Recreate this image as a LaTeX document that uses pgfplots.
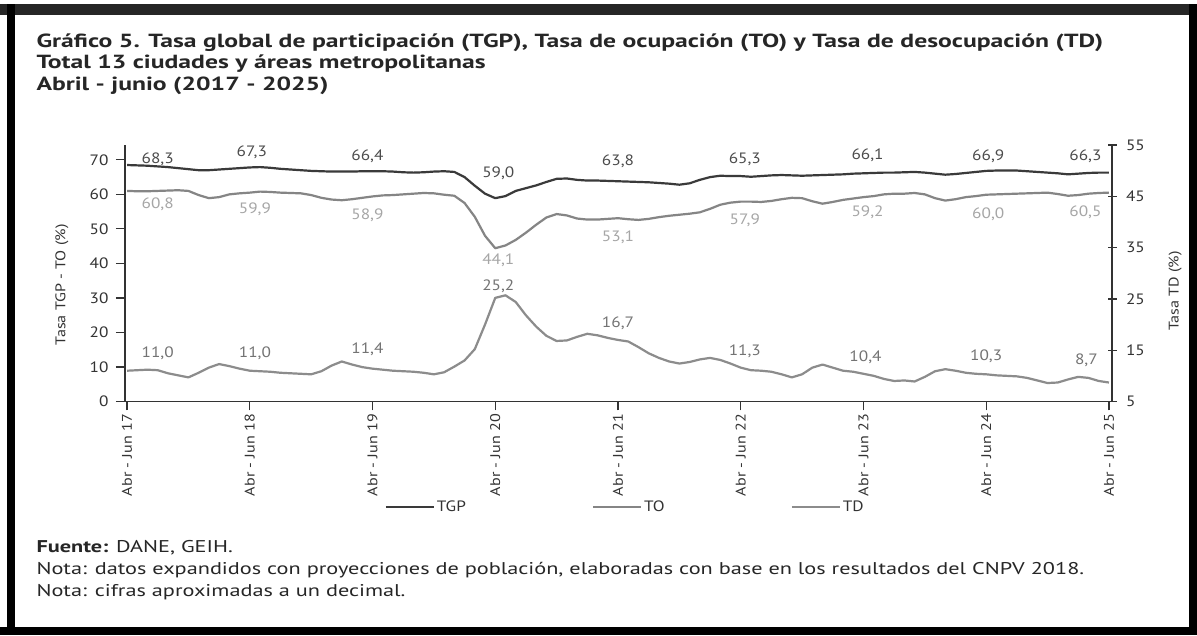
\documentclass[border=0pt]{standalone}
\usepackage{fontspec}
\setmainfont{PT Sans}[FakeStretch=1.15]
\newfontfamily\titlefont{PT Sans}[FakeStretch=1.35]
\newfontfamily\notefont{PT Sans}[FakeStretch=1.31]
\usepackage{pgfplots}
\usepackage{pgfplotstable}
\pgfplotsset{compat=1.18}

\definecolor{tgpc}{HTML}{3A3A3A}
\definecolor{toc}{HTML}{858585}
\definecolor{tdc}{HTML}{8C8C8C}
\definecolor{axc}{HTML}{333333}

% serie mensual (trimestre movil), 0 = Abr-Jun 17 ... 96 = Abr-Jun 25
\pgfplotstableread{
i tgp to td
0 68.5 61.0 11.0
1 68.4 60.9 11.1
2 68.3 60.9 11.2
3 68.1 61.0 11.1
4 67.9 61.1 10.5
5 67.6 61.2 10.1
6 67.3 61.0 9.7
7 67.0 59.8 10.6
8 67.0 58.9 11.6
9 67.2 59.2 12.3
10 67.4 60.0 11.9
11 67.6 60.3 11.4
12 67.8 60.5 11.0
13 67.9 60.8 10.9
14 67.7 60.7 10.8
15 67.4 60.5 10.6
16 67.2 60.4 10.5
17 67.0 60.3 10.4
18 66.8 59.8 10.3
19 66.7 59.0 10.9
20 66.6 58.5 12.0
21 66.6 58.3 12.8
22 66.6 58.6 12.2
23 66.7 59.0 11.7
24 66.7 59.4 11.4
25 66.7 59.7 11.2
26 66.6 59.8 11.0
27 66.4 60.0 10.9
28 66.3 60.2 10.8
29 66.4 60.4 10.6
30 66.6 60.3 10.3
31 66.7 59.9 10.7
32 66.5 59.6 11.8
33 65.0 57.5 13.0
34 62.5 53.5 15.2
35 60.2 48.0 20.0
36 58.9 44.4 25.2
37 59.5 45.2 25.7
38 61.0 46.8 24.4
39 61.8 48.9 21.8
40 62.6 51.2 19.6
41 63.6 53.3 17.8
42 64.5 54.3 16.8
43 64.6 53.9 16.9
44 64.2 53.0 17.6
45 64.0 52.7 18.2
46 64.0 52.7 17.9
47 63.9 52.9 17.4
48 63.8 53.1 17.0
49 63.7 52.8 16.7
50 63.6 52.6 15.6
51 63.5 52.9 14.4
52 63.3 53.4 13.5
53 63.1 53.8 12.8
54 62.8 54.1 12.4
55 63.2 54.4 12.7
56 64.2 54.8 13.2
57 65.0 55.8 13.5
58 65.4 57.0 13.1
59 65.3 57.6 12.4
60 65.3 57.9 11.6
61 65.1 57.9 11.1
62 65.3 57.8 11.0
63 65.5 58.1 10.8
64 65.6 58.6 10.3
65 65.5 59.0 9.7
66 65.4 58.9 10.3
67 65.5 58.0 11.6
68 65.6 57.3 12.2
69 65.7 57.8 11.6
70 65.8 58.4 11.0
71 66.0 58.8 10.8
72 66.1 59.2 10.4
73 66.2 59.5 10.0
74 66.3 60.0 9.4
75 66.3 60.2 9.0
76 66.4 60.2 9.1
77 66.5 60.4 8.9
78 66.3 60.0 9.8
79 66.0 58.9 10.9
80 65.7 58.2 11.3
81 65.9 58.6 11.0
82 66.2 59.2 10.6
83 66.5 59.5 10.4
84 66.8 59.9 10.3
85 66.9 60.0 10.1
86 66.9 60.1 10.0
87 66.9 60.2 9.9
88 66.7 60.3 9.6
89 66.5 60.4 9.1
90 66.3 60.5 8.6
91 66.1 60.1 8.7
92 65.8 59.6 9.3
93 66.0 59.8 9.8
94 66.2 60.2 9.6
95 66.3 60.4 9.0
96 66.3 60.5 8.7
}\datos

\pgfplotsset{
  marco/.style={
    at={(125pt,233.5pt)}, anchor=south west,
    scale only axis, width=987pt, height=256.5pt,
    xmin=-0.2, xmax=96.3,
    axis line style={axc, line width=1.3pt},
    tick style={axc, line width=1.2pt},
    major tick length=9pt,
    /pgf/number format/assume math mode=true,
    ticklabel style={font=\fontsize{15}{15}\selectfont, text=axc},
  },
  serie/.style={line width=2.2pt, line join=round, no markers},
}

\begin{document}
\begin{tikzpicture}
\useasboundingbox (0,0) rectangle (1197pt,635pt);
\fill[white] (0,0) rectangle (1197pt,635pt);
% marco escaneado
\fill[black!85] (0,620pt) rectangle (1197pt,631pt);
\fill[black] (7pt,0) rectangle (15pt,631pt);
\fill[black] (1189pt,0) rectangle (1197pt,631pt);
\fill[black] (0,0) rectangle (1197pt,8pt);

\begin{scope}[every node/.style={anchor=west, font=\titlefont\fontsize{19}{19}\selectfont\bfseries, text=black!85}]
\node at (33pt,592pt)
  {Gráfico 5. Tasa global de participación (TGP), Tasa de ocupación (TO) y Tasa de desocupación (TD)};
\node at (33pt,571pt) {Total 13 ciudades y áreas metropolitanas};
\node at (33pt,549pt) {Abril - junio (2017 - 2025)};
\end{scope}

\begin{scope}[every node/.style={anchor=west, font=\notefont\fontsize{17}{17}\selectfont, text=black!85}]
\node at (33pt,87pt) {\textbf{Fuente:} DANE, GEIH.};
\node at (33pt,65pt)
  {Nota: datos expandidos con proyecciones de población, elaboradas con base en los resultados del CNPV 2018.};
\node at (33pt,43pt) {Nota: cifras aproximadas a un decimal.};
\end{scope}

\begin{axis}[
  marco,
  ymin=0, ymax=74.3,
  axis x line*=bottom, axis y line*=left,
  tick align=outside,
  xtick={0,12,...,96},
  xticklabels={Abr - Jun 17,Abr - Jun 18,Abr - Jun 19,Abr - Jun 20,Abr - Jun 21,Abr - Jun 22,Abr - Jun 23,Abr - Jun 24,Abr - Jun 25},
  xticklabel style={rotate=90, anchor=east, font=\fontsize{14}{14}\selectfont},
  ytick={0,10,...,70},
  yticklabel style={xshift=-4pt},
  ylabel={Tasa TGP - TO (\%)},
  ylabel style={at={(axis description cs:-0.064,0.455)}, anchor=center, font=\fontsize{14}{14}\selectfont, text=axc},
  legend columns=3,
  legend style={at={(0.263,-0.41)}, anchor=west, draw=none, fill=none, inner sep=0pt,
    font=\fontsize{15}{15}\selectfont, text=axc,
    /tikz/every even column/.append style={column sep=124pt}},
  legend image code/.code={\draw[#1] (0pt,0pt) -- (48pt,0pt);},
]
\addplot[serie, tgpc] table[x=i, y=tgp] {\datos};
\addplot[serie, toc] table[x=i, y=to] {\datos};
\addlegendimage{serie, tdc}
\legend{TGP,TO,TD}

% etiquetas TGP
\begin{scope}[every node/.style={font=\fontsize{15}{15}\selectfont, text=black!70}]
\node at (axis cs:3,70.2) {68,3};
\node at (axis cs:12.2,72.3) {67,3};
\node at (axis cs:23.5,71.0) {66,4};
\node at (axis cs:36.3,66.2) {59,0};
\node at (axis cs:48,69.6) {63,8};
\node at (axis cs:60.4,70.1) {65,3};
\node at (axis cs:72.4,71.3) {66,1};
\node at (axis cs:84.2,70.9) {66,9};
\node at (axis cs:93.7,70.9) {66,3};
\end{scope}
% etiquetas TO
\begin{scope}[every node/.style={font=\fontsize{15}{15}\selectfont, text=black!35}]
\node at (axis cs:3,57.0) {60,8};
\node at (axis cs:12.5,55.6) {59,9};
\node at (axis cs:23.5,54.0) {58,9};
\node at (axis cs:36.3,40.8) {44,1};
\node at (axis cs:48,47.7) {53,1};
\node at (axis cs:60.4,52.6) {57,9};
\node at (axis cs:72.4,54.8) {59,2};
\node at (axis cs:84.2,54.3) {60,0};
\node at (axis cs:93.7,54.8) {60,5};
\end{scope}
% etiquetas TD
\begin{scope}[every node/.style={font=\fontsize{15}{15}\selectfont, text=black!55}]
\node at (axis cs:3,14.1) {11,0};
\node at (axis cs:12.5,14.1) {11,0};
\node at (axis cs:23.5,15.0) {11,4};
\node at (axis cs:36.3,33.4) {25,2};
\node at (axis cs:48,22.6) {16,7};
\node at (axis cs:60.4,14.5) {11,3};
\node at (axis cs:72.2,12.8) {10,4};
\node at (axis cs:84,13.0) {10,3};
\node at (axis cs:93.8,11.9) {8,7};
\end{scope}
\end{axis}

\begin{axis}[
  marco,
  ymin=5, ymax=55,
  axis x line=none, axis y line*=right,
  tick align=center,
  ytick={5,15,...,55},
  yticklabel style={xshift=6pt},
  ylabel={Tasa TD (\%)},
  ylabel style={at={(axis description cs:1.064,0.43)}, anchor=center, rotate=0, font=\fontsize{14}{14}\selectfont, text=axc},
]
\addplot[serie, tdc] table[x=i, y=td] {\datos};
\end{axis}
\end{tikzpicture}
\end{document}
